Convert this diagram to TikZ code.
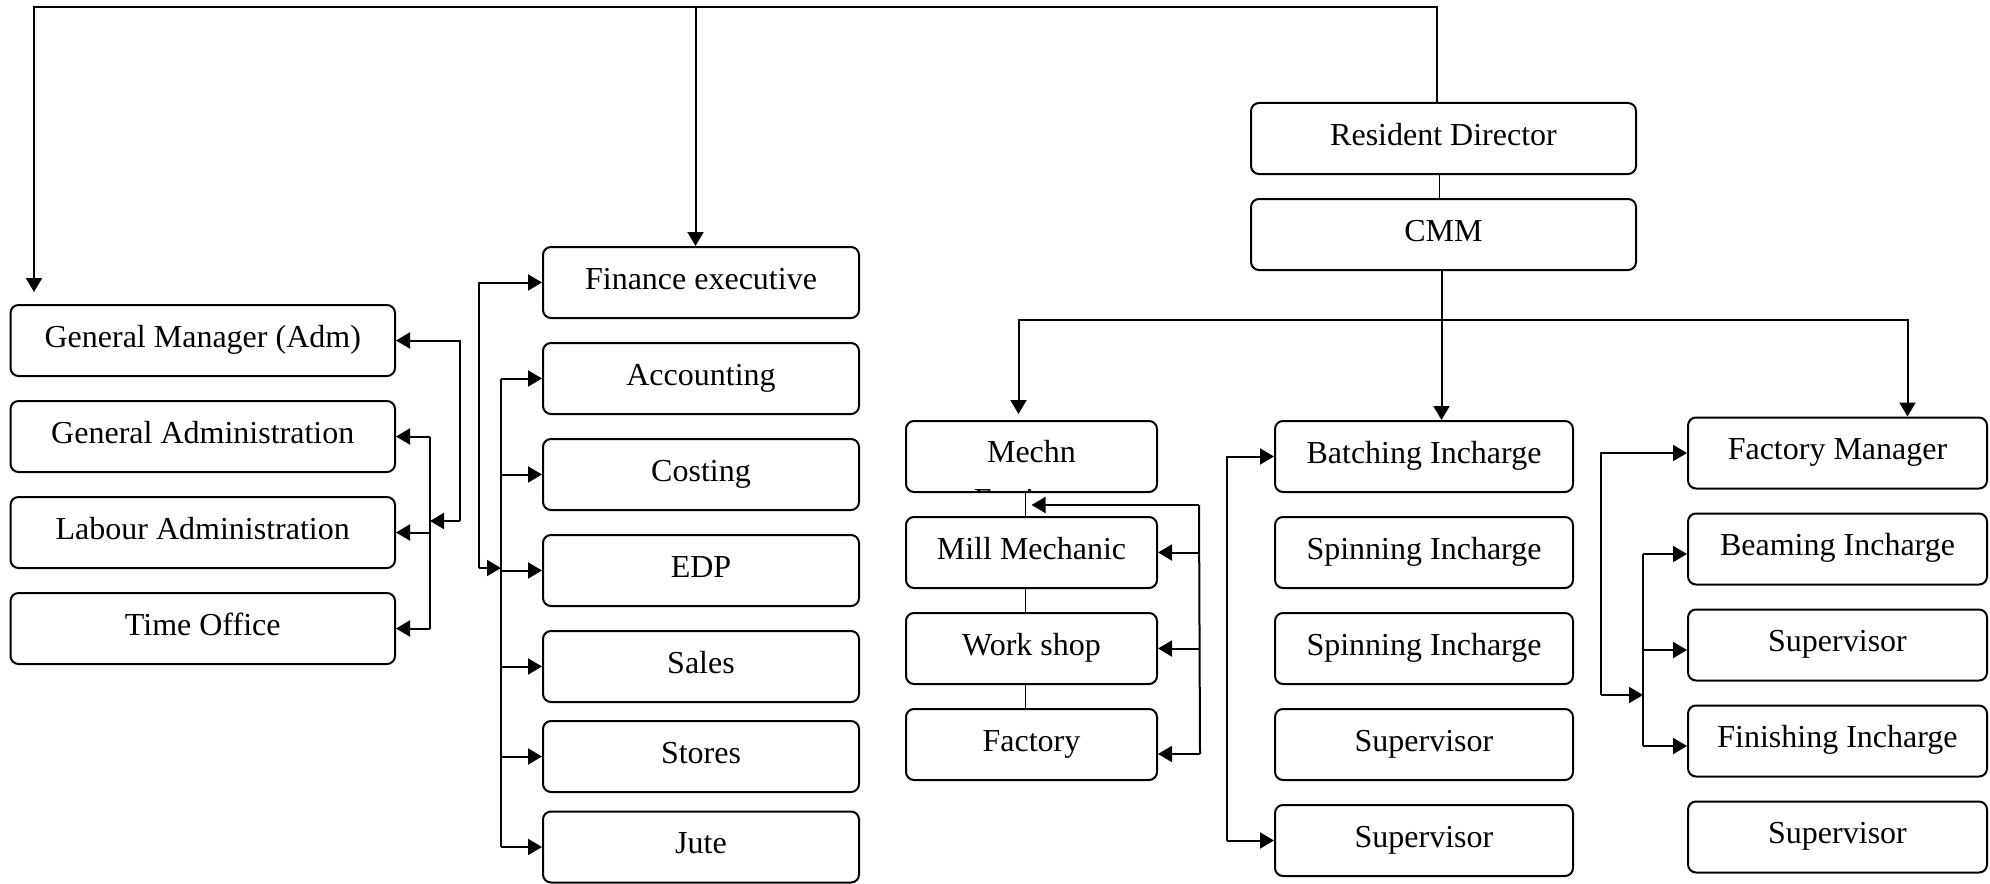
\documentclass[tikz,border=0pt]{standalone}
\usepackage{fontspec}
\setmainfont{Liberation Serif}
\usetikzlibrary{arrows.meta,positioning,calc}
\newcommand{\boxfont}{\fontsize{16}{19}\selectfont}

\begin{document}
\begin{tikzpicture}[x=0.5pt, y=-0.5pt,
  box/.style={draw, line width=1pt, rounded corners=4pt, minimum height=35.5pt, inner sep=0pt, text height=11.5pt, text depth=4.8pt, font=\boxfont},
  ptr/.style={-{Triangle[length=7pt,width=8pt]}, line width=1pt},
  link/.style={line width=0.6pt},
  node distance=11.5pt
]
  \useasboundingbox (0,0) rectangle (1990,883);

  % administration
  \foreach \lbl [count=\i] in {General Manager (Adm), General Administration, Labour Administration, Time Office} {
    \node[box, minimum width=192.25pt] (a\i) at (202.75, 244.5+96*\i) {\lbl};
  }
  % finance
  \foreach \lbl/\yy [count=\i] in {Finance executive/282.5, Accounting/378.5, Costing/474.5, EDP/570.5, Sales/666.5, Stores/756.5, Jute/847} {
    \node[box, minimum width=158pt] (f\i) at (701, \yy) {\lbl};
  }
  % resident director
  \node[box, minimum width=192.5pt] (rd) at (1443.5, 138.5) {Resident Director};
  \node[box, minimum width=192.5pt, below=of rd] (cmm) {CMM};

  % mechanical
  \node[box, minimum width=125.5pt, text depth=6pt] (m1) at (1031.5, 456.5) {Mechn};
  \node[box, minimum width=125.5pt, below=of m1] (m2) {Mill Mechanic};
  \node[box, minimum width=125.5pt, below=of m2] (m3) {Work shop};
  \node[box, minimum width=125.5pt, below=of m3, text depth=4.5pt] (m4) {Factory};
  \begin{scope}
    \clip ($(m1.north west)+(1,1)$) rectangle ($(m1.south east)+(-1,-1.5)$);
    \node[font=\boxfont, anchor=base] at ($(m1.base)+(0,48)$) {Engineer};
  \end{scope}

  % spinning
  \foreach \lbl [count=\i] in {Batching Incharge, Spinning Incharge, Spinning Incharge, Supervisor, Supervisor} {
    \node[box, minimum width=149pt] (s\i) at (1424, 360.5+96*\i) {\lbl};
  }
  % factory
  \foreach \lbl [count=\i] in {Factory Manager, Beaming Incharge, Supervisor, Finishing Incharge, Supervisor} {
    \node[box, minimum width=149.5pt] (r\i) at (1837.5, 357+96*\i) {\lbl};
  }

  % top line
  \coordinate (topbus) at (0,7);
  \coordinate (rdtop) at ($(rd.north)+(-6.5,0)$);
  \coordinate (fintop) at ($(f1.north)+(-5.5,0)$);
  \draw[ptr] (rdtop) -- (rdtop |- topbus) -| ($(a1.north west)+(24.5,-12)$);
  \draw[ptr] (fintop |- topbus) -- (fintop);

  % administration bracket
  \coordinate (admbus) at (460,521);
  \coordinate (admsub) at (430,0);
  \draw[ptr] (admbus) |- (a1.east);
  \draw[ptr] (admbus) -- (admbus -| admsub);
  \draw[line width=1pt] (admsub |- a2.east) -- (admsub |- a4.east);
  \foreach \i in {2,3,4}
    \draw[ptr] (admsub |- a\i.east) -- (a\i.east);

  % finance bracket
  \coordinate (finbus) at (479,568);
  \coordinate (finsub) at (501,0);
  \draw[ptr] (finbus) |- (f1.west);
  \draw[ptr] (finbus) -- (finbus -| finsub);
  \draw[line width=1pt] (finsub |- f2.west) -- (finsub |- f7.west);
  \foreach \i in {2,...,7}
    \draw[ptr] (finsub |- f\i.west) -- (f\i.west);

  % CMM
  \draw[link] ($(rd.south)+(-4,0)$) -- ($(cmm.north)+(-4,0)$);
  \coordinate (cmmbus) at ($(cmm.south)+(-2,49)$);
  \draw[ptr] ($(cmm.south)+(-2,0)$) -- (cmmbus |- s1.north);
  \draw[ptr] (cmmbus) -| ($(m1.north)+(-13,-6)$);
  \draw[ptr] (cmmbus) -| ($(r1.north)+(70,0)$);

  % mechanical links
  \draw[link] ($(m1.south)+(-6,0)$) -- ($(m2.north)+(-6,0)$);
  \draw[link] ($(m2.south)+(-6,0)$) -- ($(m3.north)+(-6,0)$);
  \draw[link] ($(m3.south)+(-6,0)$) -- ($(m4.north)+(-6,0)$);
  \coordinate (mechbus) at (1199,505);
  \coordinate (mechend) at ($(m4.east)+(42,9.5)$);
  \draw[ptr] (mechbus) -- (mechbus -| m1.south);
  \draw[line width=1pt] (mechbus) -- (mechend);
  \draw[ptr] (mechend) -- ($(m4.east)+(0,9.5)$);
  \foreach \i in {2,3}
    \draw[ptr] (mechbus |- m\i.east) -- (m\i.east);

  % spinning bracket
  \coordinate (batbus) at (1227,0);
  \draw[ptr] (batbus |- s5.west) |- (s1.west);
  \draw[ptr] (batbus |- s5.west) -- (s5.west);

  % factory bracket
  \coordinate (facbus) at (1601,695);
  \draw[ptr] (facbus) |- (r1.west);
  \draw[ptr] (facbus) -- ($(r1.west)+(-44,242)$);
  \draw[line width=1pt] ($(r2.west)+(-44,5)$) -- ($(r4.west)+(-44,5)$);
  \foreach \i in {2,3,4}
    \draw[ptr] ($(r\i.west)+(-44,5)$) -- ($(r\i.west)+(0,5)$);
\end{tikzpicture}
\end{document}
